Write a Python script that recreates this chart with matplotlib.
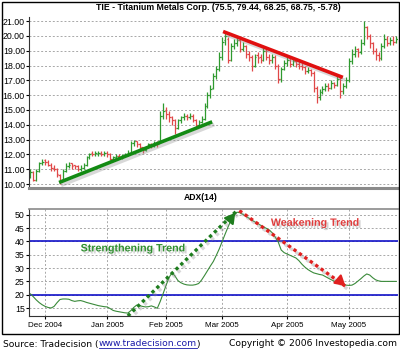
import matplotlib

matplotlib.use("Agg")
import matplotlib.pyplot as plt
import matplotlib.patheffects as pe
from matplotlib.lines import Line2D
from matplotlib.patches import Rectangle
import numpy as np

plt.rcParams["font.family"] = ["Liberation Sans", "DejaVu Sans"]

# daily OHLC of TIE, Nov 2004 - May 2005 (one entry per trading day)
opens = [10.6, 10.8, 10.3, 10.9, 11.4, 11.6, 11.5, 11.3, 11.1, 11.0,
         10.6, 10.3, 10.9, 11.2, 11.4, 11.3, 11.2, 11.0, 11.1, 11.3,
         11.8, 12.1, 12.0, 12.0, 12.1, 12.0, 12.1, 12.0, 11.7, 11.8,
         11.9, 11.8, 11.9, 12.0, 12.1, 12.8, 12.9, 12.7, 12.5, 12.3,
         12.5, 12.7, 12.6, 12.8, 12.9, 14.6, 15.0, 14.7, 14.5, 14.3,
         13.8, 14.3, 14.5, 14.6, 14.5, 14.6, 14.3, 14.0, 14.2, 14.4,
         15.3, 16.0, 16.5, 17.3, 17.8, 18.6, 19.7, 19.8, 18.4, 19.3,
         19.5, 19.7, 19.1, 19.3, 18.8, 18.6, 18.0, 18.7, 18.6, 18.4,
         19.0, 18.6, 18.4, 18.6, 18.0, 17.1, 17.8, 18.2, 18.4, 18.1,
         18.3, 18.1, 18.0, 17.9, 17.6, 17.7, 17.5, 16.5, 15.9, 16.2,
         16.4, 16.6, 16.5, 16.8, 16.7, 17.1, 16.3, 16.6, 17.0, 18.3,
         18.8, 19.1, 18.9, 19.5, 20.6, 20.0, 19.5, 19.0, 18.7, 18.5,
         19.3, 19.8, 19.5, 19.7, 19.6]
highs = [11.0, 10.9, 11.0, 11.5, 11.7, 11.7, 11.6, 11.4, 11.3, 11.1,
         10.7, 11.0, 11.4, 11.5, 11.4, 11.3, 11.3, 11.3, 11.4, 11.9,
         12.1, 12.2, 12.2, 12.2, 12.2, 12.2, 12.2, 12.1, 11.9, 12.0,
         12.0, 12.0, 12.1, 12.3, 12.9, 13.0, 12.9, 12.8, 12.5, 12.6,
         12.8, 12.8, 12.9, 12.9, 14.9, 15.5, 15.2, 14.9, 14.6, 14.4,
         14.4, 14.6, 14.8, 14.7, 14.8, 14.7, 14.4, 14.3, 14.6, 15.5,
         16.2, 16.7, 17.5, 18.0, 18.9, 19.9, 20.3, 19.9, 19.5, 19.8,
         19.9, 19.8, 19.6, 19.4, 19.0, 18.7, 18.8, 18.9, 18.8, 19.2,
         19.1, 18.8, 18.8, 18.7, 18.1, 17.9, 18.4, 18.6, 18.5, 18.5,
         18.4, 18.3, 18.2, 18.0, 17.9, 17.8, 17.6, 16.6, 16.4, 16.6,
         16.8, 16.8, 17.0, 16.9, 17.3, 17.2, 16.8, 17.2, 18.5, 19.1,
         19.3, 19.2, 19.8, 21.0, 20.7, 20.1, 19.6, 19.2, 18.9, 19.5,
         20.1, 20.0, 19.9, 20.0, 20.0]
lows = [10.4, 10.2, 10.2, 10.8, 11.3, 11.3, 11.2, 10.9, 10.9, 10.5,
        10.0, 10.2, 10.8, 11.1, 11.0, 11.0, 10.9, 10.9, 11.0, 11.2,
        11.7, 11.9, 11.9, 11.9, 11.9, 11.9, 11.8, 11.6, 11.6, 11.7,
        11.7, 11.7, 11.8, 11.9, 12.0, 12.6, 12.5, 12.3, 12.1, 12.2,
        12.4, 12.4, 12.5, 12.5, 12.8, 14.4, 14.4, 14.2, 14.0, 13.4,
        13.7, 14.1, 14.3, 14.3, 14.4, 14.2, 13.8, 13.9, 14.1, 14.3,
        15.1, 15.8, 16.4, 17.1, 17.6, 18.4, 19.4, 18.2, 18.3, 19.1,
        19.3, 18.9, 19.0, 18.5, 18.3, 17.6, 17.9, 18.2, 18.2, 18.3,
        18.4, 18.1, 18.2, 17.8, 16.8, 16.9, 17.7, 18.0, 17.9, 18.0,
        17.9, 17.8, 17.7, 17.4, 17.5, 17.3, 16.2, 15.5, 15.7, 16.1,
        16.3, 16.3, 16.4, 16.5, 16.6, 15.8, 16.1, 16.5, 16.9, 18.1,
        18.6, 18.6, 18.8, 19.4, 19.8, 19.2, 18.8, 18.4, 18.3, 18.4,
        19.2, 19.3, 19.4, 19.4, 19.5]
closes = [10.8, 10.3, 10.9, 11.4, 11.5, 11.5, 11.3, 11.1, 11.0, 10.7,
          10.3, 10.9, 11.2, 11.3, 11.2, 11.2, 11.0, 11.1, 11.3, 11.8,
          12.0, 12.0, 12.1, 12.1, 12.0, 12.1, 12.0, 11.7, 11.8, 11.9,
          11.8, 11.9, 12.0, 12.1, 12.8, 12.9, 12.7, 12.5, 12.3, 12.5,
          12.7, 12.6, 12.8, 12.7, 14.6, 14.9, 14.7, 14.5, 14.3, 13.8,
          14.3, 14.5, 14.6, 14.5, 14.6, 14.3, 14.0, 14.2, 14.4, 15.3,
          16.0, 16.4, 17.3, 17.8, 18.6, 19.6, 20.0, 18.4, 19.3, 19.5,
          19.7, 19.1, 19.3, 18.8, 18.6, 18.0, 18.6, 18.5, 18.4, 19.0,
          18.6, 18.4, 18.6, 18.0, 17.1, 17.8, 18.2, 18.4, 18.1, 18.3,
          18.1, 18.0, 17.9, 17.6, 17.7, 17.5, 16.5, 15.9, 16.2, 16.4,
          16.6, 16.5, 16.8, 16.7, 17.1, 16.3, 16.6, 17.0, 18.3, 18.8,
          19.0, 18.9, 19.5, 20.6, 20.0, 19.5, 19.0, 18.7, 18.5, 19.3,
          19.8, 19.5, 19.7, 19.6, 19.8]
adx = [20.3, 19.2, 18.0, 17.0, 16.2, 15.6, 15.2, 15.0, 15.6, 17.0,
       18.2, 18.4, 18.4, 18.3, 17.8, 17.5, 17.7, 17.8, 17.5, 17.1,
       16.8, 16.5, 16.2, 15.9, 15.7, 15.5, 15.4, 14.8, 14.1, 13.8,
       13.6, 13.4, 13.2, 13.1, 14.0, 15.2, 16.1, 15.9, 15.6, 15.4,
       15.5, 15.8, 15.4, 14.9, 17.5, 20.5, 23.6, 26.5, 28.3, 27.0,
       25.3, 24.5, 24.0, 23.7, 23.6, 23.6, 23.8, 24.2, 25.5, 27.2,
       29.0, 30.8, 32.5, 34.8, 37.2, 40.0, 42.8, 45.5, 48.0, 49.8,
       51.0, 50.8, 50.2, 49.5, 48.8, 48.0, 47.4, 46.8, 46.1, 45.5,
       44.9, 44.3, 43.2, 41.6, 39.8, 36.8, 35.8, 35.3, 34.8, 34.3,
       33.8, 32.8, 31.5, 30.4, 29.5, 28.8, 28.2, 27.9, 27.6, 27.4,
       26.8, 26.2, 25.6, 25.1, 24.8, 24.4, 23.9, 23.6, 23.5, 23.6,
       24.2, 25.1, 26.0, 27.0, 27.8, 27.4, 26.4, 25.6, 25.2, 25.0,
       25.0, 25.0, 25.0, 25.0, 25.0]

month_pos = [5, 26, 46, 65, 87, 108]
month_labels = ["Dec 2004", "Jan 2005", "Feb 2005", "Mar 2005", "Apr 2005", "May 2005"]
price_ticks = [10, 11, 12, 13, 14, 15, 16, 17, 18, 19, 20, 21]
adx_ticks = [15, 20, 25, 30, 35, 40, 45, 50]
adx_levels = [20, 40]

# hand-drawn trend lines (bar index, value)
support_line = ([9.7, 61.6], [10.1, 14.2])
resist_line = ([65.3, 105.9], [20.3, 17.2])
up_arrow = ([33.0, 70.0], [12.0, 51.6])
down_arrow = ([70.8, 107.5], [51.6, 22.6])

GREEN = "#2f9a2f"
RED = "#e04848"
GRID = "#a8a8a8"
shadow = [pe.SimpleLineShadow(offset=(1.5, -2), shadow_color="#909090", alpha=0.35), pe.Normal()]

fig = plt.figure(figsize=(4, 3.54), dpi=100)
ax1 = fig.add_axes([29 / 400, 1 - 188 / 354, 369 / 400, 171 / 354])
ax2 = fig.add_axes([29 / 400, 1 - 316 / 354, 369 / 400, 107 / 354])

x = np.arange(len(closes))
o, h, l, c = map(np.array, (opens, highs, lows, closes))
cols = np.where(c >= o, GREEN, RED)

# --- price panel ---
ax1.vlines(x, l, h, colors=cols, lw=0.9)
ax1.hlines(o, x - 0.5, x, colors=cols, lw=0.9)
ax1.hlines(c, x, x + 0.5, colors=cols, lw=0.9)
ax1.plot(*support_line, color="#138a13", lw=2.6, solid_capstyle="butt", path_effects=shadow)
ax1.plot(*resist_line, color="#e01010", lw=2.6, solid_capstyle="butt", path_effects=shadow)
ax1.set_xlim(-0.5, len(closes) - 0.4)
ax1.set_ylim(9.73, 21.28)
ax1.set_yticks(price_ticks)
ax1.set_yticklabels([f"{v:.2f}" for v in price_ticks])
ax1.set_xticks([])
ax1.grid(axis="y", color=GRID, ls=(0, (2, 2)), lw=0.7)
ax1.set_axisbelow(True)
for s in ["top", "right"]:
    ax1.spines[s].set_visible(False)
ax1.spines["left"].set_color("#333333")
ax1.spines["bottom"].set_color("#8a8a8a")
ax1.spines["bottom"].set_linewidth(2.2)
ax1.tick_params(axis="y", labelsize=6.3, length=2, pad=1)

# --- ADX panel ---
for lev in adx_levels:
    ax2.axhline(lev, color="#1010c8", lw=1.2)
ax2.plot(x, adx, color="#3a8a3a", lw=0.8)
ax2.plot(*up_arrow, color="#1e7d1e", lw=2.4, ls=(0, (1, 1)), path_effects=shadow)
ax2.plot(*down_arrow, color="#e02020", lw=2.4, ls=(0, (1, 1)), path_effects=shadow)
ax2.annotate("", xy=(up_arrow[0][1], up_arrow[1][1]), xytext=(up_arrow[0][1] - 2.5, up_arrow[1][1] - 3.6),
             arrowprops=dict(arrowstyle="-|>,head_length=0.6,head_width=0.35", color="#1e7d1e", lw=1.5))
ax2.annotate("", xy=(down_arrow[0][1], down_arrow[1][1]), xytext=(down_arrow[0][1] - 2.5, down_arrow[1][1] + 2.4),
             arrowprops=dict(arrowstyle="-|>,head_length=0.6,head_width=0.35", color="#e02020", lw=1.5))
txt_shadow = [pe.SimplePatchShadow(offset=(1.5, -1.5), shadow_rgbFace="#909090", alpha=0.4), pe.Normal()]
ax2.text(34.7, 37.4, "Strengthening Trend", color="#2f8f2f", fontsize=7.7, fontweight="bold",
         ha="center", va="center", path_effects=txt_shadow)
ax2.text(96.4, 47.0, "Weakening Trend", color="#e03c3c", fontsize=7.7, fontweight="bold",
         ha="center", va="center", path_effects=txt_shadow)
ax2.set_xlim(-0.5, len(closes) - 0.4)
ax2.set_ylim(12.0, 52.2)
ax2.set_yticks(adx_ticks)
ax2.set_xticks(month_pos)
ax2.set_xticklabels(month_labels)
ax2.grid(color=GRID, ls=(0, (2, 2)), lw=0.7)
ax2.set_axisbelow(True)
ax2.spines["right"].set_visible(False)
ax2.spines["top"].set_color("#8a8a8a")
ax2.spines["top"].set_linewidth(1.2)
ax2.spines["left"].set_color("#333333")
ax2.spines["bottom"].set_color("#333333")
ax2.tick_params(axis="y", labelsize=6.3, length=2, pad=1)
ax2.tick_params(axis="x", labelsize=5.8, length=2.5, pad=2)

# titles and frame
fig.text(0.545, 1 - 7 / 354, "TIE - Titanium Metals Corp. (75.5, 79.44, 68.25, 68.75, -5.78)",
         ha="center", va="center", fontsize=6.3, fontweight="bold")
fig.text(201 / 400, 1 - 198 / 354, "ADX(14)", ha="center", va="center", fontsize=6.2, fontweight="bold")
fig.add_artist(Rectangle((1.5 / 400, 1 - 334 / 354), 397 / 400, 332.5 / 354,
                         transform=fig.transFigure, fill=False, ec="black", lw=1.0))

# footer: pieces placed one after another, link underlined
foot_y = 1 - 344 / 354
foot = dict(fontsize=6.6, va="center", ha="left", family="DejaVu Sans")
renderer = fig.canvas.get_renderer()
t1 = fig.text(3 / 400, foot_y, "Source: Tradecision (", **foot)
x1 = t1.get_window_extent(renderer).x1 / 400
t2 = fig.text(x1, foot_y, "www.tradecision.com", color="#1a1aa8", **foot)
bb = t2.get_window_extent(renderer)
fig.text(bb.x1 / 400, foot_y, ")", **foot)
fig.add_artist(Line2D([bb.x0 / 400, bb.x1 / 400], [(bb.y0 + 1) / 354] * 2, color="#1a1aa8", lw=0.6,
                      transform=fig.transFigure))
fig.text(397 / 400, foot_y, "Copyright \u00a9 2006 Investopedia.com",
         **{**foot, "ha": "right"})

fig.savefig("out.png", dpi=100)
